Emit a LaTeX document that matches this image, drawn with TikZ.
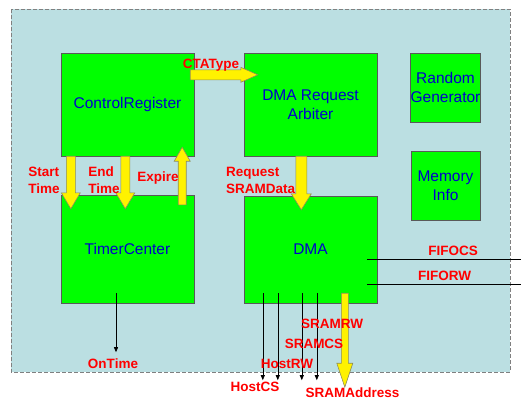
\documentclass[tikz,border=0pt]{standalone}
\usepackage{fontspec}
\setmainfont{Liberation Sans}
\usetikzlibrary{arrows.meta,calc,positioning}

\definecolor{bgblue}{HTML}{BBDFE2}
\definecolor{boxgreen}{HTML}{00FF00}
\definecolor{boxtext}{HTML}{0000CC}
\definecolor{sigred}{HTML}{FF0000}
\definecolor{arrowedge}{HTML}{8C8C5A}

\tikzset{
  block/.style={draw=black!65, fill=boxgreen, text=boxtext, align=center,
    font=\fontsize{15.5}{18.5}\selectfont, inner sep=0pt},
  siglabel/.style={text=sigred, font=\bfseries\fontsize{13.5}{17}\selectfont, inner sep=0pt},
  sig/.style={draw=black, line width=0.6pt, -{Triangle[length=5pt,width=4pt]}},
  % fat yellow arrow: #1 half shaft, #2 half head, #3 head length
  yarrow/.style n args={3}{draw=arrowedge, line width=0.6pt, fill=yellow,
    to path={
      ($(\tikztostart)!#1pt!90:(\tikztotarget)$)
      -- ($($(\tikztotarget)!#3pt!(\tikztostart)$)!#1pt!-90:(\tikztostart)$)
      -- ($($(\tikztotarget)!#3pt!(\tikztostart)$)!#2pt!-90:(\tikztostart)$)
      -- (\tikztotarget)
      -- ($($(\tikztotarget)!#3pt!(\tikztostart)$)!#2pt!90:(\tikztostart)$)
      -- ($($(\tikztotarget)!#3pt!(\tikztostart)$)!#1pt!90:(\tikztostart)$)
      -- ($(\tikztostart)!#1pt!-90:(\tikztotarget)$) -- cycle}},
  ybig/.style={yarrow={4.5}{9.5}{16}}
}

\begin{document}
\begin{tikzpicture}[x=1pt,y=-1pt]
    \useasboundingbox (0,0) rectangle (521,400);
    % background
    \draw[fill=bgblue, draw=gray, dash pattern=on 4pt off 2pt] (11,9) rectangle (510,372);

    % Blocks
    \node[block, minimum width=133pt, minimum height=103pt] (ctrl) at (127.5,104.5) {ControlRegister};
    \node[block, minimum width=133pt, minimum height=108pt] (timer) at (127.5,249) {TimerCenter};
    \node[block, minimum width=133pt, minimum height=103pt] (arb) at (310.5,104.5) {DMA Request\\Arbiter};
    \node[block, minimum width=133pt, minimum height=107pt] (dma) at (310.5,249.5) {DMA};
    \node[block, minimum width=69pt, minimum height=69pt] (rng) at (445.5,87.5) {Random\\Generator};
    \node[block, minimum width=69pt, minimum height=69pt] (mem) at (445.5,185.5) {Memory\\Info};

    % Yellow arrows
    \draw[ybig] ($(ctrl.south west)+(10,0)$) to ($(timer.north west)+(10,14)$);
    \draw[ybig] ($(ctrl.south west)+(64.5,0)$) to ($(timer.north west)+(64.5,14)$);
    \draw[yarrow={4}{8}{14}] ($(timer.north east)+(-12,10)$) to ($(ctrl.south east)+(-12,-9)$);
    \draw[yarrow={5}{7.5}{17}] ($(ctrl.north east)+(-4,22)$) to ($(arb.north west)+(14,22)$);
    \draw[yarrow={5.5}{10}{16}] ($(arb.south west)+(57.5,0)$) to ($(dma.north west)+(57.5,14)$);

    % Signals
    \draw[sig] ($(timer.south)+(-11.5,-10)$) -- ($(timer.south)+(-11.5,49)$);
    \foreach \dx in {19,34,58,73}
        \draw[sig] ($(dma.south west)+(\dx,-10)$) -- ($(dma.south west)+(\dx,77)$);
    \draw[yarrow={3.5}{8}{24}] ($(dma.south west)+(101,-10)$) to ($(dma.south west)+(101,84)$);
    \coordinate (fcsend) at (521,259);
    \coordinate (frwend) at (521,284);
    \draw[line width=0.6pt] ($(dma.east)+(-10,9.5)$) -- (fcsend);
    \draw[line width=0.6pt] ($(dma.east)+(-10,34.5)$) -- (frwend);

    % Labels
    \node[siglabel] (ctatype) at (211,65) {CTAType};
    \node[siglabel, align=left] (starttime) at (44,180) {Start\\Time};
    \node[siglabel, align=left] (endtime) at (104,180) {End\\Time};
    \node[siglabel] (expire) at (158,178) {Expire};
    \node[siglabel, align=left, anchor=west] (reqdata) at (226,180) {Request\\SRAMData};
    \node[siglabel] (ontime) at (113,364) {OnTime};
    \node[siglabel] (sramrw) at (332,324) {SRAMRW};
    \node[siglabel] (sramcs) at (314,344) {SRAMCS};
    \node[siglabel] (hostrw) at (287,364) {HostRW};
    \node[siglabel] (hostcs) at (255,387) {HostCS};
    \node[siglabel] (sramaddr) at (352.5,392.5) {SRAMAddress};
    \node[siglabel] (fifocs) at (453,251) {FIFOCS};
    \node[siglabel] (fiforw) at (444.5,276) {FIFORW};
\end{tikzpicture}
\end{document}
